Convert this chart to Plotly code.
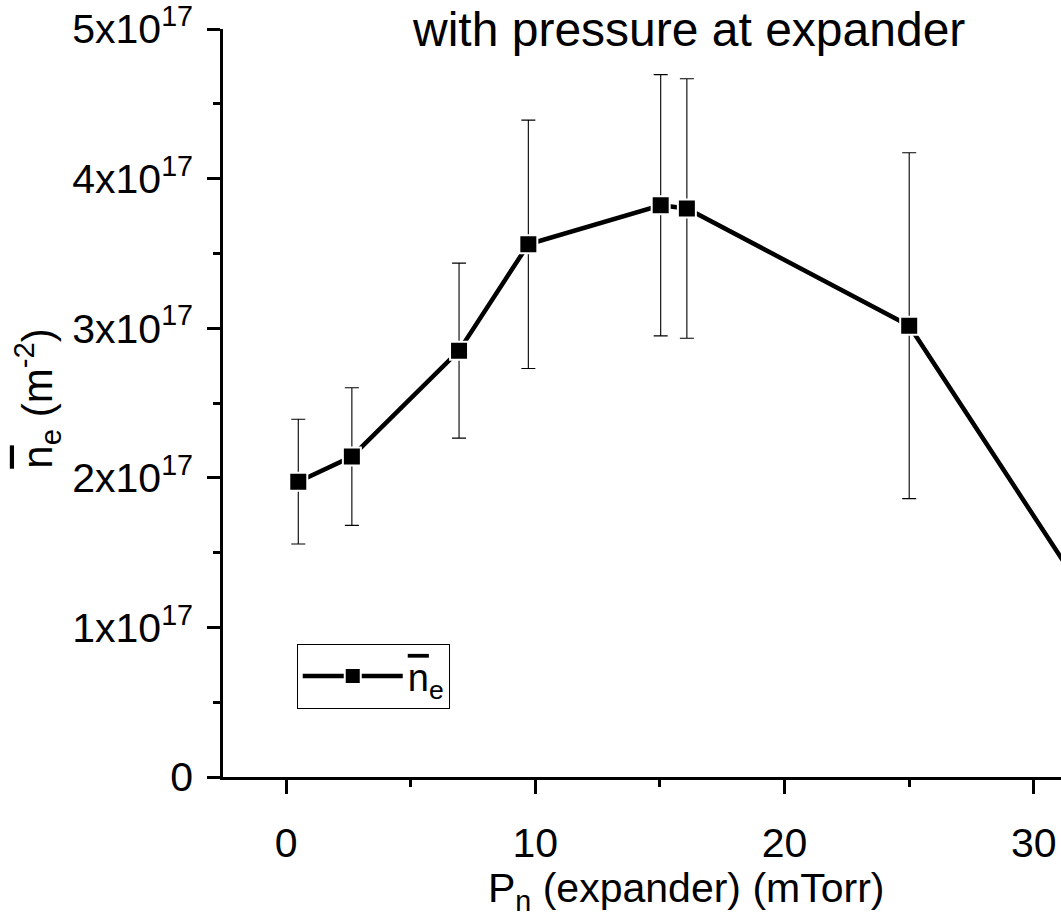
import plotly.graph_objects as go

# Data; last point lies beyond the visible x-range
pressure_mtorr = [0.49, 2.64, 6.94, 9.72, 15.03, 16.08, 25.0, 35.0]
ne_bar = [1.974e17, 2.142e17, 2.85e17, 3.561e17, 3.822e17, 3.80e17, 3.017e17, 0.47e17]
ne_err = [0.417e17, 0.46e17, 0.585e17, 0.83e17, 0.873e17, 0.867e17, 1.156e17, 0.4e17]

y_tickvals = [0, 1e17, 2e17, 3e17, 4e17, 5e17]
y_ticktext = ["0", "1x10<sup>17</sup>", "2x10<sup>17</sup>", "3x10<sup>17</sup>",
              "4x10<sup>17</sup>", "5x10<sup>17</sup>"]
x_tickvals = [0, 10, 20, 30]

FONT = "Arial, Liberation Sans, sans-serif"
NBAR = '<span style="text-decoration:overline">n</span><sub>e</sub>'

fig = go.Figure()
fig.add_trace(go.Scatter(
    x=pressure_mtorr, y=ne_bar,
    mode="lines+markers",
    name=NBAR,
    line=dict(color="black", width=4.5),
    marker=dict(symbol="square", size=18, color="black",
                line=dict(color="white", width=2)),
    error_y=dict(type="data", array=ne_err, visible=True,
                 color="black", thickness=1.1, width=7),
))

fig.update_layout(
    width=1061, height=919,
    margin=dict(l=223, r=0, t=23, b=142),
    paper_bgcolor="white", plot_bgcolor="white",
    font=dict(family=FONT, size=41, color="black"),
    showlegend=True,
    legend=dict(x=0.088, y=0.178, xanchor="left", yanchor="top",
                bordercolor="black", borderwidth=1, bgcolor="white",
                itemwidth=100, font=dict(size=38, family=FONT),
                tracegroupgap=0),
)

fig.update_xaxes(
    range=[-2.53, 31.09],
    tickvals=x_tickvals,
    ticks="outside", ticklen=14, tickwidth=2.5, tickcolor="black",
    ticklabelstandoff=14, ticklabeloverflow="allow",
    showline=True, linecolor="black", linewidth=2.5,
    showgrid=False, zeroline=False,
    minor=dict(tickvals=[5, 15, 25], ticks="outside", ticklen=7,
               tickwidth=2.5, tickcolor="black", showgrid=False),
    tickfont=dict(size=41, family=FONT),
)
fig.update_yaxes(
    range=[0, 5e17],
    tickvals=y_tickvals, ticktext=y_ticktext,
    ticks="outside", ticklen=13, tickwidth=2.5, tickcolor="black",
    ticklabelstandoff=6, ticklabeloverflow="allow",
    showline=True, linecolor="black", linewidth=2.5,
    showgrid=False, zeroline=False,
    minor=dict(tickvals=[0.5e17, 1.5e17, 2.5e17, 3.5e17, 4.5e17], ticks="outside",
               ticklen=7, tickwidth=2.5, tickcolor="black", showgrid=False),
    tickfont=dict(size=41, family=FONT),
)

# Title (partially cut at top in the reference)
fig.add_annotation(text="with pressure at expander", xref="paper", yref="paper",
                   x=0.556, y=1.0, xanchor="center", yanchor="middle",
                   showarrow=False, font=dict(size=48, family=FONT))
# Axis titles
fig.add_annotation(text="P<sub>n</sub> (expander) (mTorr)", xref="paper", yref="paper",
                   x=0.552, y=-0.152, xanchor="center", yanchor="middle",
                   showarrow=False, font=dict(size=41, family=FONT))
fig.add_annotation(text=NBAR + " (m<sup>-2</sup>)", xref="paper", yref="paper",
                   x=-0.222, y=0.507, xanchor="center", yanchor="middle", textangle=-90,
                   showarrow=False, font=dict(size=42, family=FONT))

fig.write_html("out.html", config={"displayModeBar": False},
               post_script="document.body.style.margin='0';document.body.style.padding='0';document.body.style.overflow='hidden';")
